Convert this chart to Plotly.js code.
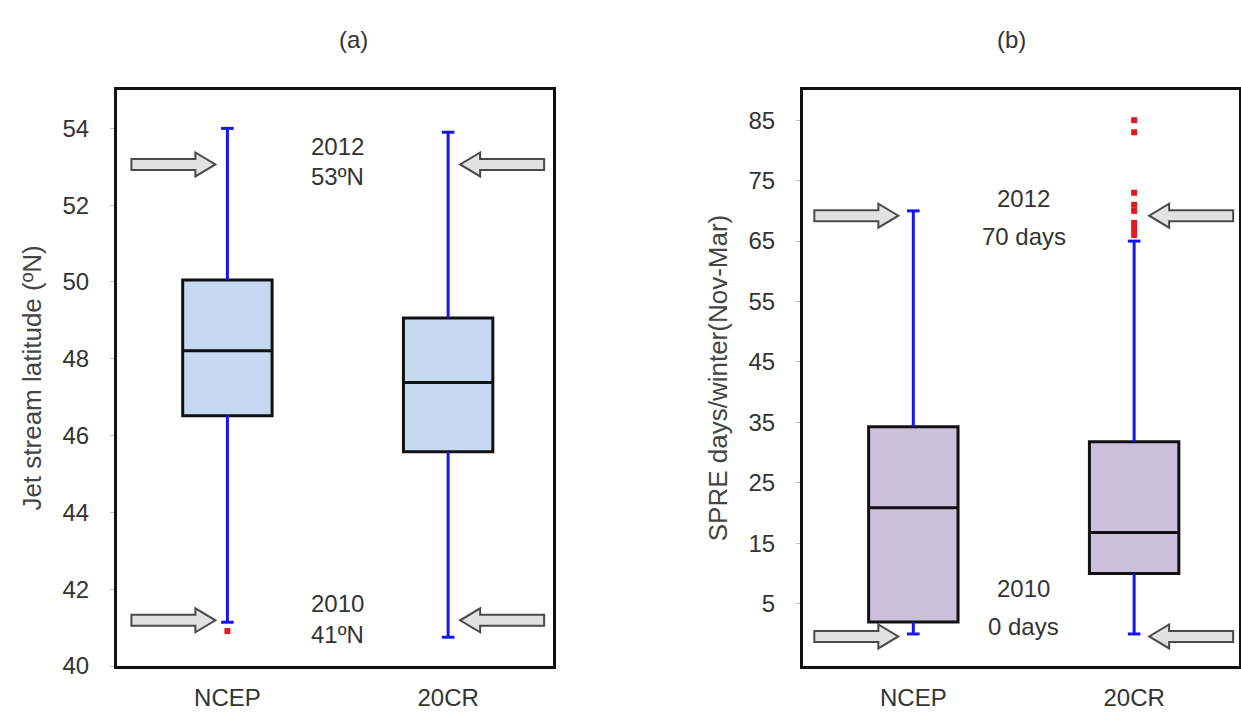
<!DOCTYPE html>
<html><head><meta charset="utf-8">
<script src="https://cdn.plot.ly/plotly-3.0.1.min.js"></script>
<style>html,body{margin:0;padding:0;background:#fff}</style>
</head><body><div id="chart" style="width:1241px;height:713px"></div>
<script>
// ---------- data ----------
const categories = ['NCEP', '20CR'];
const catPos = [0, 1];

// (a) Jet stream latitude (ºN)
const jetTicks = [40, 42, 44, 46, 48, 50, 52, 54];
const jetQ1 = [46.52, 45.58];
const jetMedian = [48.21, 47.38];
const jetQ3 = [50.05, 49.06];
const jetLowerWhisker = [41.14, 40.75];
const jetUpperWhisker = [54.0, 53.9];
const jetOutliersNCEP = [40.91];
const jetOutliers20CR = [];
const jetEventLevels = [53.06, 41.19];        // 2012, 2010
const jetEventYears = ['2012', '2010'];
const jetEventLabels = ['53ºN', '41ºN'];
const jetYearTextY = [53.53, 41.64];
const jetLabelTextY = [52.75, 40.82];

// (b) SPRE days / winter
const spreTicks = [5, 15, 25, 35, 45, 55, 65, 75, 85];
const spreQ1 = [2.0, 10.0];
const spreMedian = [20.9, 16.8];
const spreQ3 = [34.3, 31.8];
const spreLowerWhisker = [0, 0];
const spreUpperWhisker = [70, 65];
const spreOutliersNCEP = [];
const spreOutliers20CR = [85, 83, 73, 71, 70, 68, 67, 66];
const spreEventLevels = [69.2, -0.4];
const spreEventYears = ['2012', '2010'];
const spreEventLabels = ['70 days', '0 days'];
const spreYearTextY = [72.0, 7.5];
const spreLabelTextY = [65.8, 1.3];

// ---------- style ----------
const BLUE = '#1616e8';
const RED = '#e3191f';
const FONT = 'Liberation Sans, Arial, sans-serif';
const TXT = '#333333';

function panel(xa, ya, q1, med, q3, lo, hi, outN, out2, fill) {
  const traces = [];
  traces.push({
    type: 'box', x: catPos, q1: q1, median: med, q3: q3,
    lowerfence: q1, upperfence: q3, width: 0.405,
    fillcolor: fill, line: {color: '#111111', width: 3},
    whiskerwidth: 0, boxpoints: false, hoverinfo: 'skip',
    xaxis: xa, yaxis: ya, showlegend: false
  });
  const wx = [], wy = [];
  catPos.forEach((c, i) => {
    wx.push(c, c, null, c, c, null);
    wy.push(q3[i], hi[i], null, q1[i], lo[i], null);
  });
  traces.push({type: 'scatter', mode: 'lines', x: wx, y: wy,
    line: {color: BLUE, width: 3}, hoverinfo: 'skip', xaxis: xa, yaxis: ya, showlegend: false});
  const cx = [], cy = [];
  catPos.forEach((c, i) => { cx.push(c, c); cy.push(hi[i], lo[i]); });
  traces.push({type: 'scatter', mode: 'markers', x: cx, y: cy,
    marker: {symbol: 'line-ew', size: 9, line: {color: BLUE, width: 3}},
    hoverinfo: 'skip', xaxis: xa, yaxis: ya, showlegend: false});
  const ox = [], oy = [];
  outN.forEach(v => { ox.push(catPos[0]); oy.push(v); });
  out2.forEach(v => { ox.push(catPos[1]); oy.push(v); });
  traces.push({type: 'scatter', mode: 'markers', x: ox, y: oy,
    marker: {color: RED, size: 6, symbol: 'square'}, hoverinfo: 'skip', xaxis: xa, yaxis: ya, showlegend: false});
  return traces;
}

const data = [].concat(
  panel('x', 'y', jetQ1, jetMedian, jetQ3, jetLowerWhisker, jetUpperWhisker, jetOutliersNCEP, jetOutliers20CR, '#c6d9f1'),
  panel('x2', 'y2', spreQ1, spreMedian, spreQ3, spreLowerWhisker, spreUpperWhisker, spreOutliersNCEP, spreOutliers20CR, '#cbc0da')
);

// block arrows anchored at data positions, drawn with pixel-size paths
function arrowPath(dir, tip) {
  const L = 84, hl = 20, sh = 5.5, hh = 12;
  const t = dir * -tip;
  const p = (x, y) => `${(t + dir * x).toFixed(1)},${y}`;
  return `M${p(-L, -sh)} L${p(-hl, -sh)} L${p(-hl, -hh)} L${p(0, 0)} L${p(-hl, hh)} L${p(-hl, sh)} L${p(-L, sh)} Z`;
}
function arrows(xa, ya, levels, tipGap) {
  const s = [];
  levels.forEach(lv => {
    s.push({type: 'path', xref: xa, yref: ya, xsizemode: 'pixel', ysizemode: 'pixel',
      xanchor: catPos[0], yanchor: lv, path: arrowPath(1, tipGap),
      fillcolor: '#e2e2e2', line: {color: '#4a4a4a', width: 2}});
    s.push({type: 'path', xref: xa, yref: ya, xsizemode: 'pixel', ysizemode: 'pixel',
      xanchor: catPos[1], yanchor: lv, path: arrowPath(-1, tipGap),
      fillcolor: '#e2e2e2', line: {color: '#4a4a4a', width: 2}});
  });
  return s;
}
const shapes = [].concat(arrows('x', 'y', jetEventLevels, 12), arrows('x2', 'y2', spreEventLevels, 15));

const annFont = {family: FONT, size: 24, color: TXT};
const annotations = [];
function addTexts(xa, ya, years, labels, yy, ly) {
  years.forEach((yr, i) => {
    annotations.push({xref: xa, yref: ya, x: 0.5, y: yy[i], text: yr, showarrow: false, font: annFont});
    annotations.push({xref: xa, yref: ya, x: 0.5, y: ly[i], text: labels[i], showarrow: false, font: annFont});
  });
}
addTexts('x', 'y', jetEventYears, jetEventLabels, jetYearTextY, jetLabelTextY);
addTexts('x2', 'y2', spreEventYears, spreEventLabels, spreYearTextY, spreLabelTextY);
annotations.push({xref: 'paper', yref: 'paper', x: 0.2715, y: 0.945, yanchor: 'middle', text: '(a)', showarrow: false,
  font: {family: FONT, size: 24, color: TXT}});
annotations.push({xref: 'paper', yref: 'paper', x: 0.8285, y: 0.945, yanchor: 'middle', text: '(b)', showarrow: false,
  font: {family: FONT, size: 24, color: TXT}});

const tickFont = {family: FONT, size: 24, color: TXT};
const axisLine = {showline: true, mirror: true, linecolor: '#111111', linewidth: 3,
  showgrid: false, zeroline: false, fixedrange: true};

const layout = {
  width: 1241, height: 713,
  margin: {l: 0, r: 0, t: 0, b: 0},
  paper_bgcolor: '#ffffff', plot_bgcolor: '#ffffff',
  showlegend: false,
  xaxis: Object.assign({}, axisLine, {domain: [0.0943, 0.4456], range: [-0.5, 1.475],
    tickvals: catPos, ticktext: categories, ticks: '', tickfont: tickFont, ticklabelstandoff: 8}),
  yaxis: Object.assign({}, axisLine, {domain: [0.0659, 0.8738], range: [40, 55],
    tickmode: 'array', tickvals: jetTicks, ticks: 'outside', ticklen: 4, tickcolor: '#bbbbbb', tickfont: tickFont,
    ticklabelstandoff: 16,
    title: {text: 'Jet stream latitude (ºN)', font: {family: FONT, size: 26, color: '#444444'}, standoff: 14}}),
  xaxis2: Object.assign({}, axisLine, {domain: [0.647, 0.9984], range: [-0.5, 1.475], anchor: 'y2',
    tickvals: catPos, ticktext: categories, ticks: '', tickfont: tickFont, ticklabelstandoff: 8}),
  yaxis2: Object.assign({}, axisLine, {domain: [0.0659, 0.8738], range: [-5.3, 90], anchor: 'x2',
    tickmode: 'array', tickvals: spreTicks, ticks: 'outside', ticklen: 4, tickcolor: '#bbbbbb', tickfont: tickFont,
    ticklabelstandoff: 16,
    title: {text: 'SPRE days/winter(Nov-Mar)', font: {family: FONT, size: 26, color: '#444444'}, standoff: 14}}),
  shapes: shapes,
  annotations: annotations
};

Plotly.newPlot('chart', data, layout, {displayModeBar: false, staticPlot: true});
</script></body></html>
